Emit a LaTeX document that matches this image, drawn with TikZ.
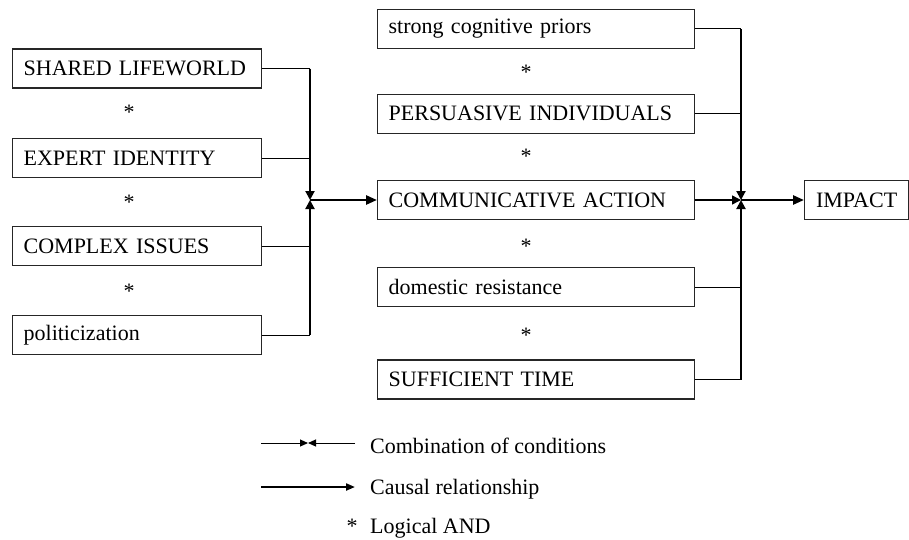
\documentclass[tikz,border=0pt]{standalone}
\usepackage{fontspec}
\setmainfont{Liberation Serif}
\usetikzlibrary{arrows.meta,calc}
\tikzstyle{box}=[rectangle, draw=black!85, line width=1.3pt, minimum height=39pt, inner xsep=11pt, inner ysep=0pt, anchor=west, align=left, font=\fontsize{22}{26}\selectfont]
\tikzstyle{leftbox}=[box, text width=227pt]
\tikzstyle{midbox}=[box, text width=295pt]
\tikzstyle{andsign}=[inner sep=0pt, yshift=-1pt, font=\fontsize{22}{26}\selectfont]
\tikzstyle{annot}=[inner sep=0pt, anchor=base west, font=\fontsize{22}{26}\selectfont]
\tikzstyle{stub}=[line width=1pt]
\tikzstyle{bus}=[line width=2pt]
\tikzstyle{meet}=[bus, -{Triangle[length=9pt,width=9pt]}]
\tikzstyle{cause}=[line width=2.5pt, -{Triangle[length=11pt,width=9pt]}]

\begin{document}
\begin{tikzpicture}[x=1pt,y=-1pt]
	\useasboundingbox (0,0) rectangle (909,539);

	% conditions on the left
	\node[leftbox](shared) at (12,68.5){SHARED LIFEWORLD};
	\node[leftbox](expert) at (12,158){EXPERT IDENTITY};
	\node[leftbox](complex) at (12,246){COMPLEX ISSUES};
	\node[leftbox](polit) at (12,335){politicization};
	\node[andsign](and1) at (129,111.7){*};
	\node[andsign](and2) at (129,201.7){*};
	\node[andsign](and3) at (129,290){*};

	% conditions in the middle
	\node[midbox](priors) at (377,28.8){strong cognitive priors};
	\node[midbox](persuasive) at (377,113.8){PERSUASIVE INDIVIDUALS};
	\node[midbox](comm) at (377,200){COMMUNICATIVE ACTION};
	\node[midbox](domestic) at (377,287.2){domestic resistance};
	\node[midbox](time) at (377,379.5){SUFFICIENT TIME};
	\node[andsign](and4) at (526,71.7){*};
	\node[andsign](and5) at (526,155){*};
	\node[andsign](and6) at (526,245){*};
	\node[andsign](and7) at (526,334){*};

	\node[box, minimum width=104pt](impact) at (804,200){IMPACT};

	\coordinate (jl) at (310,200);
	\coordinate (jr) at (741,200);

	% left combination
	\draw[stub] (shared.east) -- (shared.east -| jl);
	\draw[stub] (expert.east) -- (expert.east -| jl);
	\draw[stub] (complex.east) -- (complex.east -| jl);
	\draw[stub] (polit.east) -- (polit.east -| jl);
	\draw[meet] (shared.east -| jl) -- (jl);
	\draw[meet] (polit.east -| jl) -- (jl);
	\draw[cause] (jl) -- (comm.west);

	% right combination
	\draw[stub] (priors.east) -- (priors.east -| jr);
	\draw[stub] (persuasive.east) -- (persuasive.east -| jr);
	\draw[stub] (domestic.east) -- (domestic.east -| jr);
	\draw[stub] (time.east) -- (time.east -| jr);
	\draw[meet] (priors.east -| jr) -- (jr);
	\draw[meet] (time.east -| jr) -- (jr);
	\draw[line width=1.5pt, -{Triangle[length=9pt,width=9pt]}] (comm.east) -- (jr);
	\draw[cause] (jr) -- (impact.west);

	% legend
	\coordinate (lc1) at (261,443);
	\coordinate (lcm) at (308,443);
	\coordinate (lc2) at (355,443);
	\coordinate (lc3) at (261,487);
	\coordinate (lc4) at (355,487);
	\draw[stub, -{Triangle[length=8pt,width=7pt]}] (lc1) -- (lcm);
	\draw[stub, -{Triangle[length=8pt,width=7pt]}] (lc2) -- (lcm);
	\draw[line width=2pt, -{Triangle[length=9pt,width=7pt]}] (lc3) -- (lc4);
	\node[annot](lcombi) at (370,453){Combination of conditions};
	\node[annot](lcause) at (370,494){Causal relationship};
	\node[andsign](land) at (352,525){*};
	\node[annot](landtxt) at (370,533){Logical AND};

\end{tikzpicture}
\end{document}
